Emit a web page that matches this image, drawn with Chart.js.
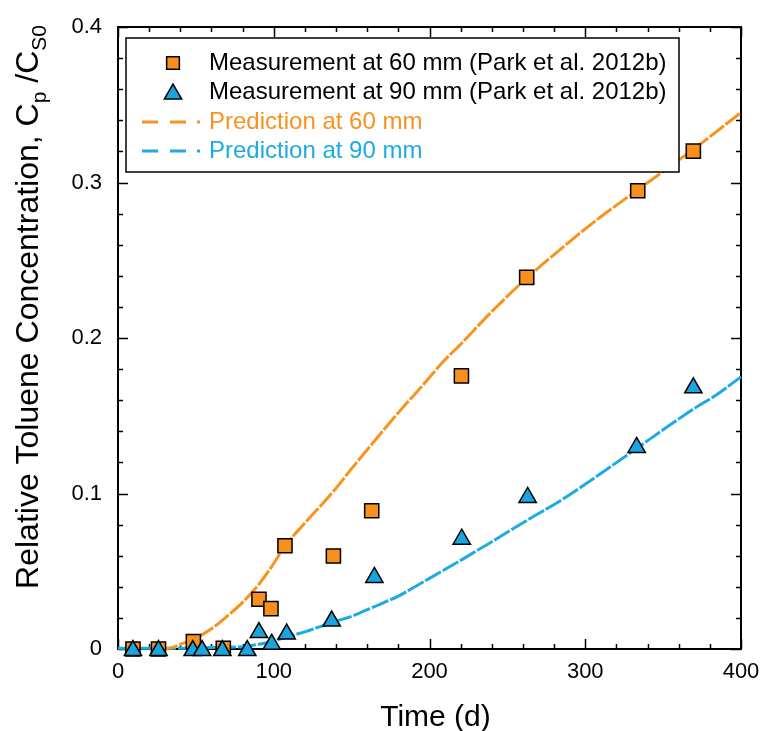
<!DOCTYPE html>
<html>
<head>
<meta charset="utf-8">
<script src="https://cdn.jsdelivr.net/npm/chart.js@4.4.1/dist/chart.umd.min.js"></script>
<style>
  html, body { margin: 0; padding: 0; background: #fff; }
  #chart { display: block; }
</style>
</head>
<body>
<canvas id="chart" width="765" height="731"></canvas>
<script>
'use strict';
/* global Chart */

// ─── Data ─────────────────────────────────────────────────────────────────────
const meas60T = [9.6, 26, 48.4, 67.6, 90.5, 98.2, 107.2, 138.3, 162.9, 220.5, 262.4, 333.7, 369.4];
const meas60C = [0, 0, 0.0047, 0.0005, 0.032, 0.026, 0.0664, 0.0598, 0.0889, 0.1756, 0.239, 0.2947, 0.3202];

const meas90T = [9.6, 26, 48, 54, 67, 83, 90.5, 98.7, 108.3, 137.2, 164.6, 220.7, 263, 333, 369.4];
const meas90C = [-0.001, -0.001, -0.001, -0.001, -0.001, -0.001, 0.0106, 0.003, 0.0096, 0.018, 0.046, 0.0706, 0.0975, 0.1296, 0.168];

const pred60T = [27, 35, 40, 50, 60, 70, 80, 90, 100, 107, 120, 138, 150, 164, 180, 196, 209, 220, 240, 263, 290, 310, 334, 369, 400];
const pred60C = [0, 0.001, 0.003, 0.007, 0.013, 0.021, 0.030, 0.041, 0.055, 0.066, 0.081, 0.101, 0.116, 0.133, 0.152, 0.170, 0.185, 0.196, 0.217, 0.239, 0.262, 0.278, 0.2955, 0.321, 0.345];

const pred90T = [0, 40, 60, 80, 90, 100, 108, 120, 137, 150, 164, 180, 194, 220, 240, 263, 285, 300, 333, 350, 369, 385, 400];
const pred90C = [0.0005, 0.0005, 0.001, 0.0015, 0.003, 0.005, 0.0077, 0.011, 0.017, 0.021, 0.027, 0.034, 0.042, 0.057, 0.069, 0.083, 0.096, 0.106, 0.129, 0.141, 0.154, 0.164, 0.175];

const legendLabels = [
  'Measurement at 60 mm (Park et al. 2012b)',
  'Measurement at 90 mm (Park et al. 2012b)',
  'Prediction at 60 mm',
  'Prediction at 90 mm',
];

// ─── Style ────────────────────────────────────────────────────────────────────
const FONT   = '"Liberation Sans", Arial, Helvetica, sans-serif';
const ORANGE = '#f7931e';
const BLUE   = '#1eaae2';
const ORANGE_FILL = '#f7901e';
const BLUE_FILL   = '#1ba5de';

const pts = (xs, ys) => xs.map((x, i) => ({ x, y: ys[i] }));

// ─── Plugins ──────────────────────────────────────────────────────────────────
// Box frame with inward ticks on all four sides (drawn under the data)
const frame = {
  id: 'frame',
  beforeDatasetsDraw(chart) {
    const { ctx, chartArea: a, scales: { x, y } } = chart;
    ctx.save();
    ctx.strokeStyle = '#000';
    ctx.lineWidth = 1.5;
    ctx.beginPath();
    for (let v = 0; v <= 400; v += 20) {
      const px  = Math.round(x.getPixelForValue(v)) + 0.5;
      const len = v % 100 === 0 ? 10 : 5;
      ctx.moveTo(px, a.bottom); ctx.lineTo(px, a.bottom - len);
      ctx.moveTo(px, a.top);    ctx.lineTo(px, a.top + len);
    }
    for (let k = 0; k <= 20; k++) {
      const py  = Math.round(y.getPixelForValue(k * 0.02)) + 0.5;
      const len = k % 5 === 0 ? 10 : 5;
      ctx.moveTo(a.left, py);  ctx.lineTo(a.left + len, py);
      ctx.moveTo(a.right, py); ctx.lineTo(a.right - len, py);
    }
    ctx.stroke();
    ctx.lineWidth = 2;
    ctx.strokeRect(a.left, a.top, a.right - a.left, a.bottom - a.top);
    ctx.restore();
  },
};

// Axis titles (y title needs subscripts, so both are drawn by hand)
const titles = {
  id: 'titles',
  afterDraw(chart) {
    const { ctx, chartArea: a } = chart;
    ctx.save();
    ctx.fillStyle = '#000';
    ctx.textBaseline = 'alphabetic';

    // x title
    ctx.font = `30px ${FONT}`;
    ctx.textAlign = 'center';
    ctx.fillText('Time (d)', (a.left + a.right) / 2 + 6, 726);

    // y title, rotated, with C_p / C_S0
    const parts = [
      { t: 'Relative Toluene Concentration, ', size: 32, dy: 0 },
      { t: 'C', size: 32, dy: 0 },
      { t: 'p', size: 21, dy: 8 },
      { t: ' /', size: 32, dy: 0 },
      { t: 'C', size: 32, dy: 0 },
      { t: 'S0', size: 21, dy: 8 },
    ];
    let total = 0;
    parts.forEach((p) => { ctx.font = `${p.size}px ${FONT}`; p.w = ctx.measureText(p.t).width; total += p.w; });
    ctx.translate(38, 307);
    ctx.rotate(-Math.PI / 2);
    ctx.textAlign = 'left';
    let cx = -total / 2;
    parts.forEach((p) => {
      ctx.font = `${p.size}px ${FONT}`;
      ctx.fillText(p.t, cx, p.dy);
      cx += p.w;
    });
    ctx.restore();
  },
};

// Boxed legend inside the plot, upper left
const legendBox = {
  id: 'legendBox',
  afterDatasetsDraw(chart) {
    const ctx = chart.ctx;
    const bx = 126, by = 38, bw = 553, bh = 134;
    const rows = [63, 92, 122, 151];
    ctx.save();
    ctx.fillStyle = '#fff';
    ctx.fillRect(bx, by, bw, bh);
    ctx.strokeStyle = '#000';
    ctx.lineWidth = 1.5;
    ctx.strokeRect(bx, by, bw, bh);

    ctx.font = `24px ${FONT}`;
    ctx.textBaseline = 'middle';
    ctx.textAlign = 'left';

    // markers
    ctx.fillStyle = ORANGE_FILL;
    ctx.strokeStyle = '#000';
    ctx.lineWidth = 1.5;
    Chart.helpers.drawPoint(ctx, { pointStyle: 'rect', radius: 9, rotation: 0, borderWidth: 1.5 }, 173, rows[0]);
    ctx.fillStyle = BLUE_FILL;
    Chart.helpers.drawPoint(ctx, { pointStyle: 'triangle', radius: 10, rotation: 0, borderWidth: 1.5 }, 173, rows[1] + 2);

    // dashed line samples
    [[ORANGE, rows[2]], [BLUE, rows[3]]].forEach(([c, yy]) => {
      ctx.strokeStyle = c;
      ctx.lineWidth = 3;
      ctx.beginPath();
      ctx.moveTo(142, yy); ctx.lineTo(158, yy);
      ctx.moveTo(170, yy); ctx.lineTo(186, yy);
      ctx.moveTo(197, yy); ctx.lineTo(200, yy);
      ctx.stroke();
    });

    ctx.fillStyle = '#000';
    ctx.fillText(legendLabels[0], 209, rows[0]);
    ctx.fillText(legendLabels[1], 209, rows[1]);
    ctx.fillStyle = ORANGE;
    ctx.fillText(legendLabels[2], 209, rows[2]);
    ctx.fillStyle = BLUE;
    ctx.fillText(legendLabels[3], 209, rows[3]);
    ctx.restore();
  },
};

// ─── Chart ────────────────────────────────────────────────────────────────────
const tickFont = { family: FONT, size: 22 };

new Chart(document.getElementById('chart'), {
  type: 'scatter',
  data: {
    datasets: [
      {
        label: legendLabels[2], data: pts(pred60T, pred60C),
        showLine: true, borderColor: ORANGE, borderWidth: 3, borderDash: [18, 2],
        pointRadius: 0, cubicInterpolationMode: 'monotone', clip: false, order: 3,
      },
      {
        label: legendLabels[3], data: pts(pred90T, pred90C),
        showLine: true, borderColor: BLUE, borderWidth: 3, borderDash: [18, 2],
        pointRadius: 0, cubicInterpolationMode: 'monotone', clip: false, order: 4,
      },
      {
        label: legendLabels[0], data: pts(meas60T, meas60C),
        pointStyle: 'rect', pointRadius: 10, borderWidth: 1.5,
        backgroundColor: ORANGE_FILL, borderColor: '#000', clip: false, order: 2,
      },
      {
        label: legendLabels[1], data: pts(meas90T, meas90C),
        pointStyle: 'triangle', pointRadius: 10, borderWidth: 1.5,
        backgroundColor: BLUE_FILL, borderColor: '#000', clip: false, order: 1,
      },
    ],
  },
  options: {
    responsive: false,
    animation: false,
    devicePixelRatio: 1,
    layout: { padding: { top: 27, right: 24, left: 0, bottom: 0 } },
    plugins: { legend: { display: false }, tooltip: { enabled: false } },
    scales: {
      x: {
        type: 'linear', min: 0, max: 400,
        ticks: { stepSize: 100, maxRotation: 0, padding: 10, color: '#000', font: tickFont },
        grid: { display: false, drawTicks: false },
        border: { display: false },
        afterFit: (s) => { s.height = 82; s.paddingLeft = 0; s.paddingRight = 0; },
      },
      y: {
        type: 'linear', min: 0, max: 0.4,
        ticks: { stepSize: 0.1, padding: 16, color: '#000', font: tickFont },
        grid: { display: false, drawTicks: false },
        border: { display: false },
        afterFit: (s) => { s.width = 118; s.paddingTop = 0; s.paddingBottom = 0; },
      },
    },
  },
  plugins: [frame, legendBox, titles],
});
</script>
</body>
</html>
